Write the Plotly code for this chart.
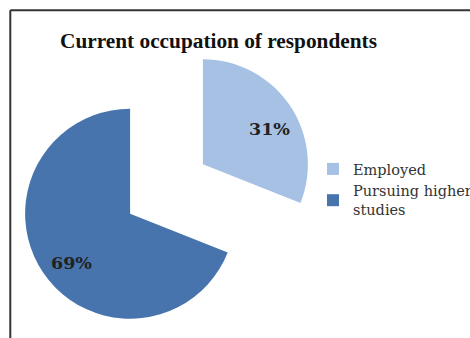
import math
import plotly.graph_objects as go

# Survey breakdown of respondents' current occupation
labels = ["Employed", "Pursuing higher<br>studies"]
values = [31, 69]
colors = ["#a7c1e4", "#4774ac"]

W, H = 470, 338

# pie geometry in pixels (y measured downward from the top of the page)
R = 105.0           # slice radius
CX, CY = 166.5, 189.0  # centre before the slices are exploded
PULL = 0.419        # explode distance as a fraction of the radius
BOX = R * (2 + 2 * PULL)

dom_x = [(CX - BOX / 2 - 1) / W, (CX + BOX / 2 + 1) / W]
dom_y = [max(0.0, 1 - (CY + BOX / 2) / H), 1 - (CY - BOX / 2) / H]

fig = go.Figure(
    go.Pie(
        labels=labels,
        values=values,
        pull=[PULL] * len(values),
        sort=False,
        direction="clockwise",
        rotation=0,
        marker=dict(colors=colors, line=dict(width=0)),
        textinfo="none",
        domain=dict(x=dom_x, y=dom_y),
        hoverinfo="label+percent",
    )
)

# percentage labels placed inside each exploded slice
total = sum(values)
annotations = []
start = 0.0
for v in values:
    frac = v / total
    mid = math.radians((start + frac / 2) * 360)
    dx, dy = math.sin(mid), -math.cos(mid)
    vx = CX + PULL * R * dx
    vy = CY + PULL * R * dy
    lx = vx + 0.72 * R * dx + 4
    ly = vy + 0.72 * R * dy + 7
    annotations.append(
        dict(
            x=lx / W, y=1 - ly / H, xref="paper", yref="paper",
            text=f"<b>{round(frac * 100)}%</b>", showarrow=False,
            font=dict(family="DejaVu Serif", size=17.5, color="#222222"),
            xanchor="center", yanchor="middle",
        )
    )
    start += frac

fig.update_layout(
    width=W,
    height=H,
    margin=dict(l=0, r=0, t=0, b=0, autoexpand=False),
    paper_bgcolor="white",
    plot_bgcolor="white",
    title=dict(
        text="<b>Current occupation of respondents</b>",
        font=dict(family="Liberation Serif", size=21.3, color="#111111"),
        x=218.5 / W,
        xanchor="center",
        xref="paper",
        yref="container",
        y=1 - 40.5 / H,
        yanchor="middle",
    ),
    legend=dict(
        x=313 / W,
        xanchor="left",
        y=1 - 153 / H,
        yanchor="top",
        font=dict(family="DejaVu Serif", size=14.5, color="#333333"),
        valign="middle",
        bgcolor="rgba(0,0,0,0)",
    ),
    showlegend=True,
    annotations=annotations,
    shapes=[
        # frame around the chart area (top and left edges)
        dict(type="line", xref="paper", yref="paper",
             x0=10.3 / W, x1=1.01, y0=1 - 10.3 / H, y1=1 - 10.3 / H,
             line=dict(color="#333333", width=2)),
        dict(type="line", xref="paper", yref="paper",
             x0=10.3 / W, x1=10.3 / W, y0=1 - 10.3 / H, y1=-0.01,
             line=dict(color="#333333", width=2)),
    ],
)

fig.write_html("out.html")
